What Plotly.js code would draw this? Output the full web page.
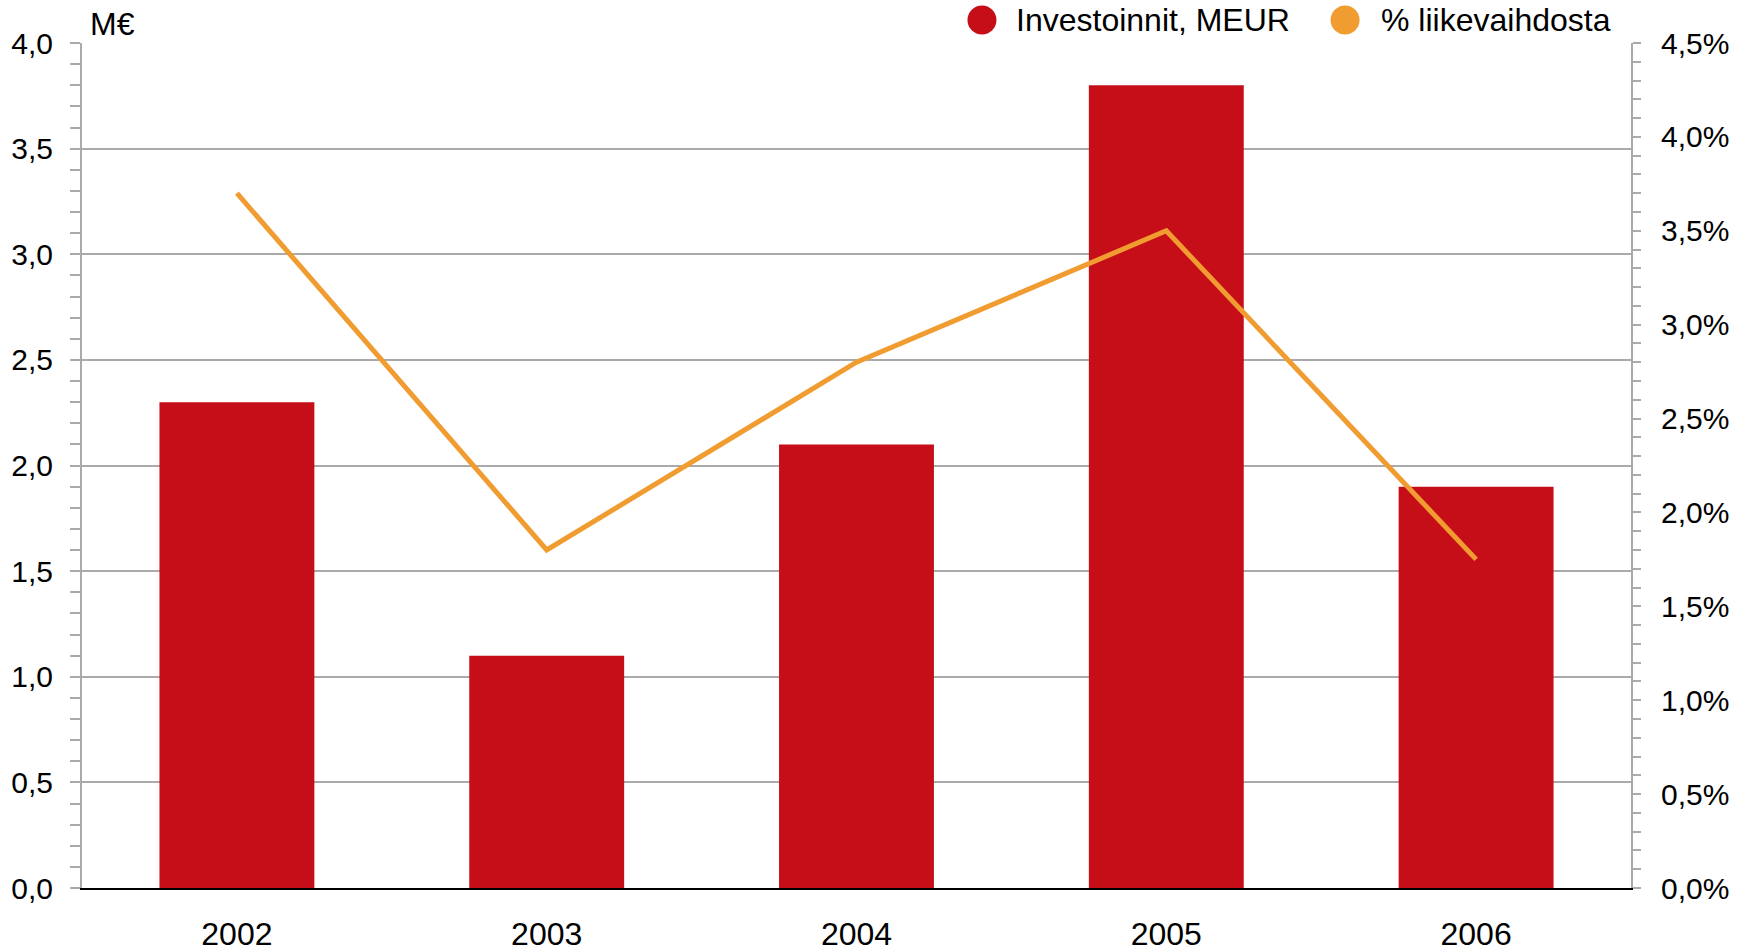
<!DOCTYPE html>
<html>
<head>
<meta charset="utf-8">
<script src="https://cdn.plot.ly/plotly-3.0.1.min.js"></script>
<style>
  html, body { margin: 0; padding: 0; background: #fff; }
  #chart { width: 1750px; height: 952px; }
</style>
</head>
<body>
<div id="chart"></div>
<script>
// data
const years = ['2002', '2003', '2004', '2005', '2006'];
const investments = [2.3, 1.1, 2.1, 3.8, 1.9];        // M€
const shareOfSales = [3.70, 1.80, 2.80, 3.50, 1.75];  // %
const barName = 'Investoinnit, MEUR';
const lineName = '% liikevaihdosta';
const unitLabel = 'M€';

const red = '#c60e18';
const orange = '#f09c30';
const grey = '#aaaaaa';
const font = 'Liberation Sans, Arial, sans-serif';

const bars = {
  type: 'bar',
  x: years,
  y: investments,
  name: barName,
  marker: {color: red},
  showlegend: false,
  hoverinfo: 'skip'
};

const line = {
  type: 'scatter',
  mode: 'lines',
  x: years,
  y: shareOfSales,
  yaxis: 'y2',
  name: lineName,
  line: {color: orange, width: 5},
  showlegend: false,
  hoverinfo: 'skip'
};

// legend drawn by hand so the dots can be as big as in the original
function legendDot(xa, color) {
  return {
    type: 'circle', xref: 'paper', yref: 'paper',
    xsizemode: 'pixel', ysizemode: 'pixel',
    xanchor: xa, yanchor: 1,
    x0: -14.5, x1: 14.5, y0: 8.5, y1: 37.5,
    fillcolor: color, line: {width: 0}
  };
}
function legendText(xa, text) {
  return {
    xref: 'paper', yref: 'paper', x: xa, y: 1,
    xanchor: 'left', yanchor: 'middle', yshift: 23,
    text: text, showarrow: false,
    font: {family: font, size: 32, color: '#000'}
  };
}

const layout = {
  width: 1750,
  height: 952,
  margin: {l: 82, r: 119, t: 43, b: 64},
  paper_bgcolor: '#fff',
  plot_bgcolor: '#fff',
  separators: ', ',
  font: {family: font, size: 30, color: '#000'},
  bargap: 0.5,
  xaxis: {
    type: 'category',
    showline: true, linecolor: '#000', linewidth: 2,
    ticks: '', showgrid: false,
    ticklabelstandoff: 17,
    tickfont: {size: 32}
  },
  yaxis: {
    range: [0, 4], dtick: 0.5, tickformat: '.1f',
    showline: true, linecolor: grey, linewidth: 2,
    ticks: 'outside', ticklen: 10, tickcolor: grey, tickwidth: 2,
    showgrid: true, gridcolor: grey, gridwidth: 2,
    zeroline: false,
    minor: {dtick: 0.1, ticks: 'outside', ticklen: 10, tickcolor: grey, tickwidth: 2, showgrid: false},
    ticklabelstandoff: 11,
    tickfont: {size: 30}
  },
  yaxis2: {
    overlaying: 'y', side: 'right',
    range: [0, 4.5], dtick: 0.5, tickformat: '.1f', ticksuffix: '%',
    showline: true, linecolor: grey, linewidth: 2,
    ticks: 'outside', ticklen: 8, tickcolor: grey, tickwidth: 2,
    showgrid: false, zeroline: false,
    minor: {dtick: 0.1, ticks: 'outside', ticklen: 8, tickcolor: grey, tickwidth: 2, showgrid: false},
    ticklabelstandoff: 14,
    tickfont: {size: 30}
  },
  shapes: [legendDot(0.581, red), legendDot(0.8154, orange)],
  annotations: [
    legendText(0.602, barName),
    legendText(0.837, lineName),
    {
      xref: 'paper', yref: 'paper', x: 0.004, y: 1,
      xanchor: 'left', yanchor: 'middle', yshift: 19,
      text: unitLabel, showarrow: false,
      font: {family: font, size: 32, color: '#000'}
    }
  ]
};

Plotly.newPlot('chart', [bars, line], layout, {staticPlot: true});
</script>
</body>
</html>
